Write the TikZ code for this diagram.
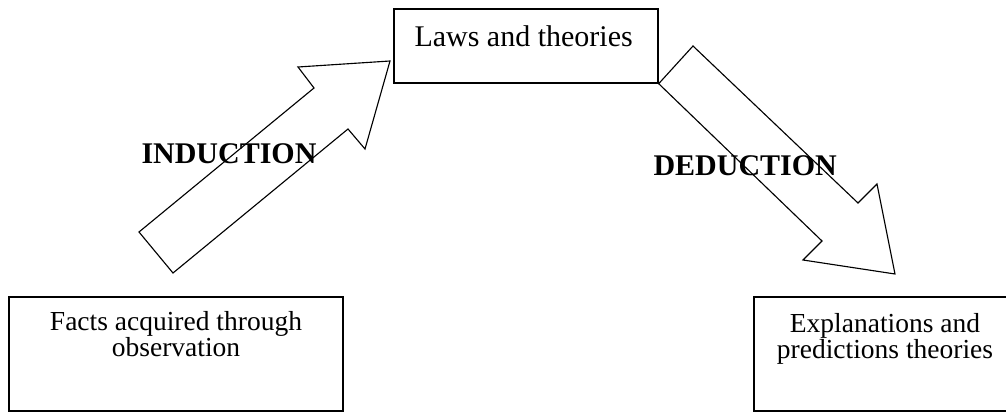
\documentclass[tikz,border=0pt]{standalone}
\usepackage{fontspec}
\setmainfont{Liberation Serif}
\begin{document}
\begin{tikzpicture}[x=0.4pt,y=-0.4pt,
  box/.style={draw,line width=0.55pt,inner sep=0pt},
  blockarrow/.style={draw,line width=0.45pt,line join=miter,fill=white},
  boxtext/.style={font=\fontsize{11}{10.4}\selectfont,align=center,inner sep=0pt,anchor=base},
  label/.style={font=\fontsize{12}{14}\selectfont\bfseries,inner sep=0pt,anchor=base west}]
\useasboundingbox (0,0) rectangle (1006,412);
% boxes
\node[box,minimum width=105.6pt,minimum height=29.6pt] (laws) at (526,46) {};
\node[box,minimum width=133.6pt,minimum height=45.6pt] (facts) at (176,354) {};
\coordinate (expltl) at (1006,297);
\coordinate (expltr) at (754,297);
\coordinate (explbl) at (754,411);
\coordinate (explbr) at (1006,411);
\draw[line width=0.55pt] (expltl) -- (expltr) -- (explbl) -- (explbr);
% texts
\node[font=\fontsize{12}{14}\selectfont,inner sep=0pt,anchor=base west] (lawst) at (414,47) {Laws and theories};
\node[boxtext] (factst) at (176,356) {Facts acquired through\\observation};
\node[boxtext] (explt) at (885,358) {Explanations and\\predictions theories};
% block arrows
\draw[blockarrow] (139,232) -- (314,88) -- (298,67) -- (390,61) -- (365,149) -- (348,129) -- (173,273) -- cycle;
\draw[blockarrow] (laws.south east) -- (693,46) -- (858,203) -- (877,184) -- (895,274) -- (803,260) -- (822,241) -- cycle;
% labels
\node[label] (ind) at (141,164) {INDUCTION};
\node[label] (ded) at (653,176) {DEDUCTION};
\end{tikzpicture}
\end{document}
